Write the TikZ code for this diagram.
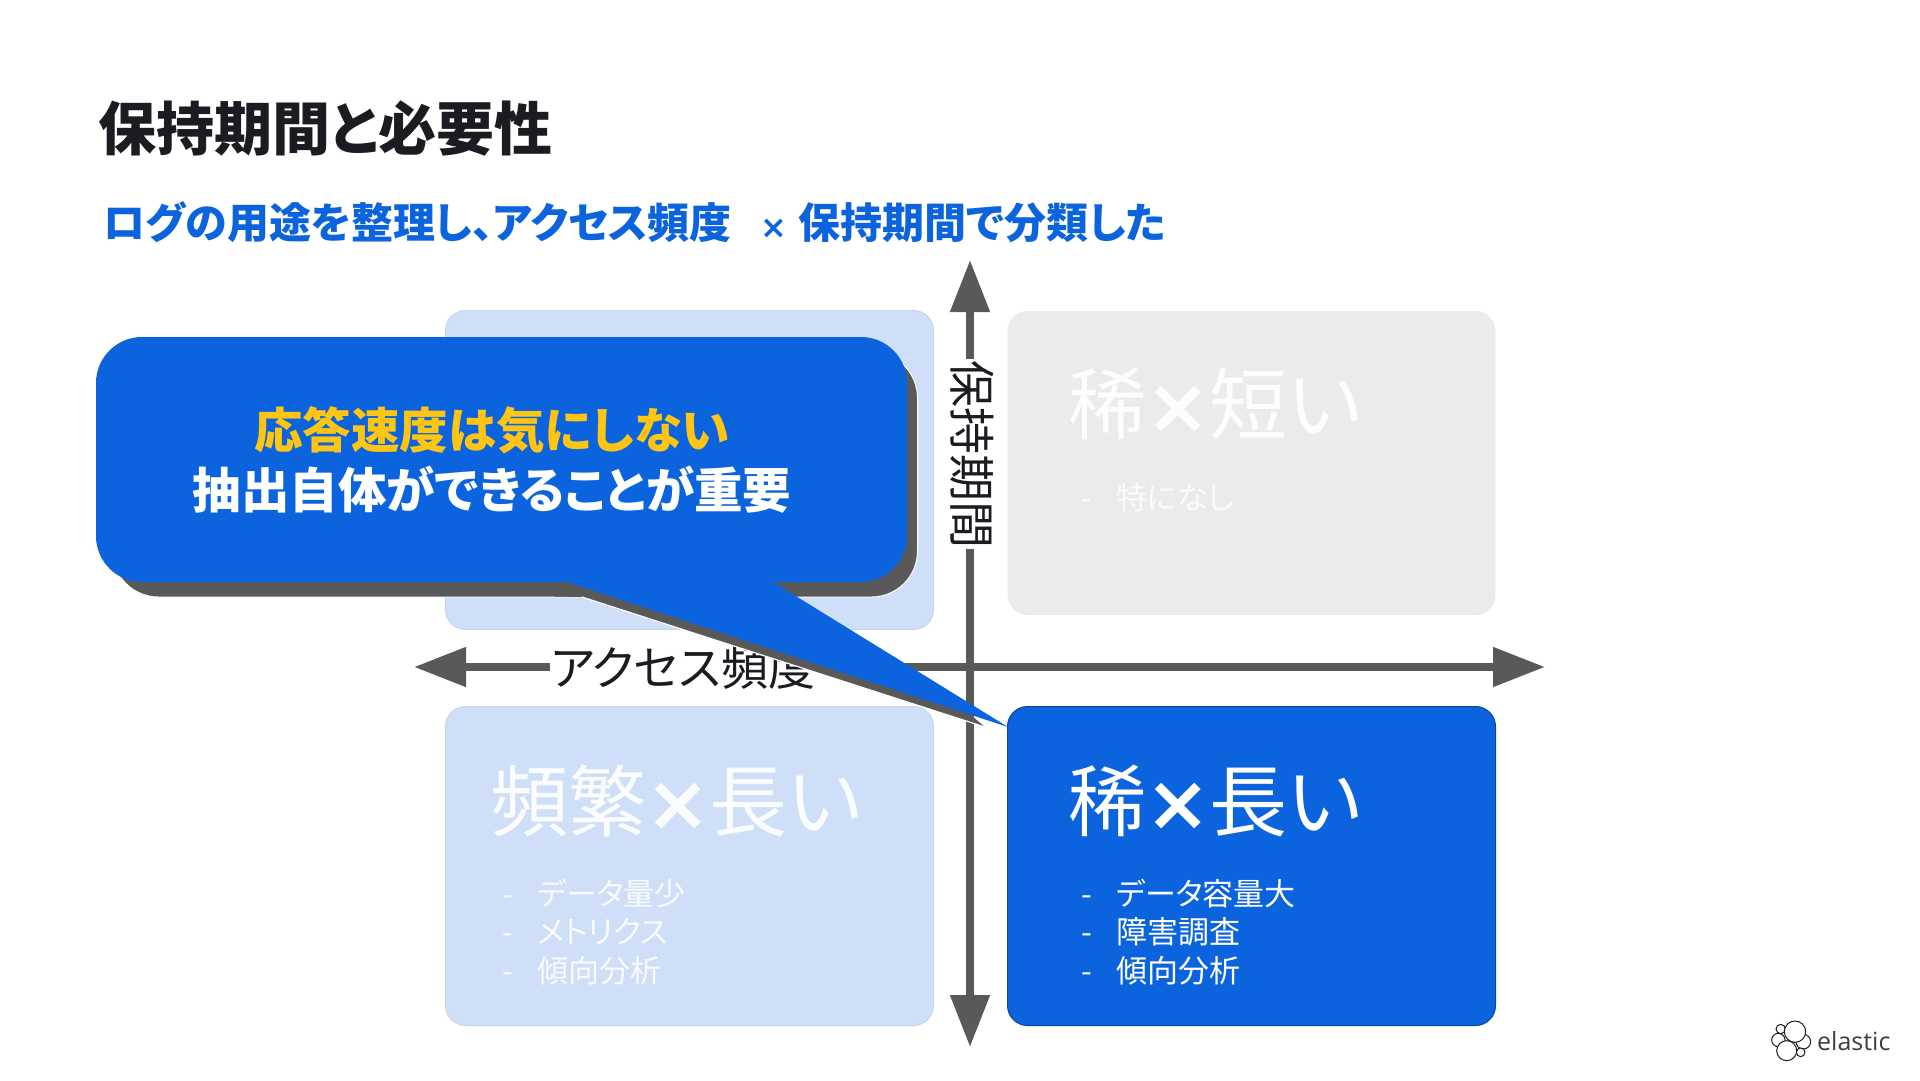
\documentclass[tikz,border=0pt]{standalone}
\usepackage{fontspec}
\setmainfont{Noto Sans CJK JP}[RawFeature=+palt]
\newfontfamily\logofont{Open Sans}
\newfontfamily\crossfont{DejaVu Sans}
\usetikzlibrary{arrows.meta}

\definecolor{elasticblue}{HTML}{0B64DD}
\definecolor{elasticyellow}{HTML}{FEC514}
\definecolor{axisgray}{HTML}{595959}
\definecolor{panelblue}{HTML}{CFDFF7}
\definecolor{panelgray}{HTML}{EBEBEB}
\definecolor{titleink}{HTML}{1A1C21}

\tikzset{
	panel/.style={rounded corners=20pt, minimum width=488pt, inner sep=0pt},
	fadedpanel/.style={panel, fill=panelblue, draw=panelblue!90!gray, line width=1pt},
	heading/.style={anchor=west, inner sep=0pt, font=\fontsize{78pt}{82pt}\selectfont},
	item/.style={anchor=west, inner sep=0pt, font=\fontsize{31pt}{34pt}\selectfont},
	axislabel/.style={fill=white, inner sep=1pt, text=titleink, font=\fontsize{47pt}{49pt}\selectfont},
	axisline/.style={{Triangle[length=52pt,width=38pt]}-{Triangle[length=52pt,width=38pt]}, line width=8pt, axisgray},
}

\newcommand{\dashitem}[1]{\makebox[35pt][l]{-}#1}
\newcommand{\boldcross}{\hspace{-1pt}{\crossfont\bfseries\fontsize{78pt}{80pt}\selectfont ×}\hspace{-1pt}}

\begin{document}
\begin{tikzpicture}[x=1pt,y=-1pt]
	\useasboundingbox (0,0) rectangle (1920,1080);

	\node[anchor=west, inner sep=0pt, text=titleink, font=\fontsize{58pt}{61pt}\selectfont\bfseries] (title) at (98,129) {保持期間と必要性};
	\node[anchor=west, inner sep=0pt, text=elasticblue, font=\fontsize{42pt}{44pt}\selectfont\bfseries] (subtitle) at (103,222) {ログの用途を整理し、アクセス頻度\hspace{29pt}{\crossfont\bfseries\fontsize{32pt}{34pt}\selectfont ×}\hspace{11pt}保持期間で分類した};

	% quadrants
	\node[fadedpanel, minimum height=319pt] (boxTL) at (689.5,470) {};
	\node[panel, fill=panelgray, minimum height=304pt] (boxTR) at (1251.5,463) {};
	\node[fadedpanel, minimum height=319pt] (boxBL) at (689.5,866) {};
	\node[panel, fill=elasticblue, draw=elasticblue!70!black, line width=1pt, minimum height=319pt] (boxBR) at (1251.5,866) {};

	\node[heading, text=white!92!panelgray] (headTR) at (1068,404) {稀\boldcross 短い};
	\node[heading, text=white!92!panelblue] (headBL) at (490,801) {頻繁\boldcross 長い};
	\node[heading, text=white] (headBR) at (1068,801) {稀\boldcross 長い};

	\node[item, text=white!80!panelgray] (itemTR) at (1081,498) {\dashitem{特になし}};
	\foreach \y/\t [count=\i] in {894/データ量少, 932/メトリクス, 971/傾向分析}
		\node[item, text=white!85!panelblue] (itemBL\i) at (502,\y) {\dashitem{\t}};
	\foreach \y/\t [count=\i] in {894/データ容量大, 932/障害調査, 971/傾向分析}
		\node[item, text=white] (itemBR\i) at (1081,\y) {\dashitem{\t}};

	% axes
	\coordinate (axisW) at (414,667);
	\coordinate (axisE) at (1545,667);
	\coordinate (axisN) at (970,260);
	\coordinate (axisS) at (970,1047);
	\draw[axisline] (axisW) -- (axisE);
	\draw[axisline] (axisN) -- (axisS);
	\node[axislabel] (labelAccess) at (683,668) {アクセス頻度};
	\node[axislabel, rotate=-90] (labelKeep) at (972,454) {保持期間};

	% callout
	\coordinate (shadowStart) at (582,597);
	\coordinate (tipShadow) at (985,727);
	\coordinate (tipBlue) at (1008,727);
	\node[rounded corners=46pt, fill=axisgray, draw=white, line width=1pt, minimum width=805pt, minimum height=245pt, inner sep=0pt] (calloutShadow) at (515,474.5) {};
	\fill[axisgray] (555,575) -- (555,596.5) -- (shadowStart) -- (tipShadow) -- (960,706) -- (700,600) -- cycle;
	\draw[white, line width=1.2pt] (shadowStart) -- (tipShadow);
	\node[rounded corners=46pt, fill=elasticblue, minimum width=811pt, minimum height=245pt, inner sep=0pt] (calloutBox) at (501.5,459.5) {};
	\fill[elasticblue] (567,580) -- (567,582) -- (tipBlue) -- (773,582) -- (773,580) -- cycle;
	\node[align=center, inner sep=0pt, text=white, font=\fontsize{48.5pt}{60pt}\selectfont\bfseries] (calloutText) at (492,460) {\textcolor{elasticyellow}{応答速度は気にしない}\\抽出自体ができることが重要};

	% logo
	\begin{scope}[shift={(1760,1010)}, x=0.3333pt, y=-0.3333pt]
		\foreach \cx/\cy/\r/\n in {130/95/22/a, 122/127/13/b, 55/90/20/c, 62/57/14/d, 105/65/32/e, 80/122/30/f}
			\node[circle, draw=titleink, fill=white, line width=1pt, minimum size=\r*0.6667pt, inner sep=0pt] (logo\n) at (\cx,\cy) {};
	\end{scope}
	\node[anchor=west, inner sep=0pt, text=titleink!85!white, font=\logofont\fontsize{25pt}{28pt}\selectfont] (logoText) at (1817,1041) {elastic};
\end{tikzpicture}
\end{document}
